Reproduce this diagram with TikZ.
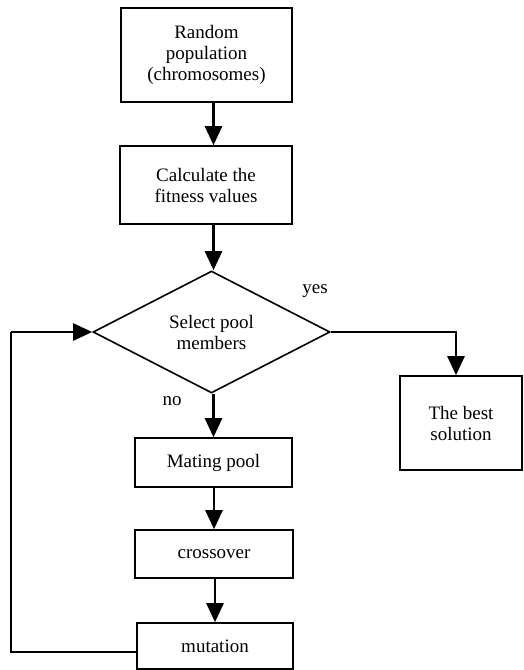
\documentclass[tikz,border=0pt]{standalone}
\usepackage{fontspec}
\setmainfont{Liberation Serif}
\usetikzlibrary{arrows.meta,shapes.geometric,positioning}

\begin{document}
\begin{tikzpicture}[x=1pt,y=1pt]
                \tikzstyle{every node}+=[inner sep=0pt, font=\fontsize{19}{21}\selectfont]
                \tikzstyle{block}=[draw, black, line width=1.6pt, align=center]
                \tikzstyle{decision}=[draw, black, diamond, line width=1.6pt, align=center,
                                      minimum width=237pt, minimum height=122pt]
                \tikzstyle{arr}=[black, line width=2.6pt, -{Triangle[length=19pt,width=17pt]}]
                \tikzstyle{backline}=[black, line width=1.6pt]
                \useasboundingbox (0,0) rectangle (523,-670);
                \node [block, minimum width=171pt, minimum height=94pt] (pop) at (206.5,-55) {Random\\population\\(chromosomes)};
                \node [block, minimum width=172pt, minimum height=78pt] (fit) at (206,-185) {Calculate the\\fitness values};
                \node [decision] (sel) at (211.5,-332) {Select pool\\members};
                \node [block, minimum width=157pt, minimum height=49pt] (mate) at (213.5,-462.5) {Mating pool};
                \node [block, minimum width=158pt, minimum height=48pt] (cross) at (214,-554) {crossover};
                \node [block, minimum width=156pt, minimum height=46pt] (mut) at (215,-646) {mutation};
                \node [block, minimum width=122pt, minimum height=94pt] (best) at (461,-423) {The best\\solution};
                \node (yes) at (315,-291) {yes};
                \node (no) at (172,-401) {no};
                \coordinate (back) at (11,-652);
                \coordinate (turn) at (back |- sel.west);
                \draw [arr] (pop.south -| mate.north) -- (fit.north -| mate.north);
                \draw [arr] (fit.south -| mate.north) -- (sel.north -| mate.north);
                \draw [arr] (sel.south -| mate.north) -- (mate.north);
                \draw [arr] (mate.south -| cross.north) -- (cross.north);
                \draw [arr] (cross.south -| mut.north) -- (mut.north);
                \draw [arr] (sel.east) -| ([xshift=-5pt]best.north);
                \draw [backline] (mut.west |- back) -- (back) -- (turn);
                \draw [arr] (turn) -- (sel.west);
            \end{tikzpicture}
\end{document}
